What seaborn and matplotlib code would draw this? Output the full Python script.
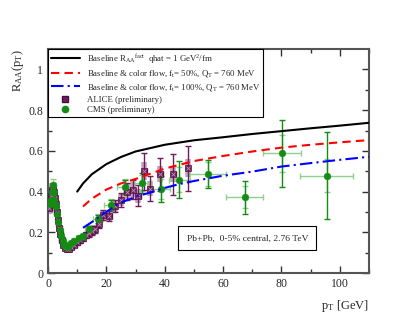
import matplotlib
matplotlib.use('Agg')
import matplotlib.pyplot as plt
import seaborn as sns
import numpy as np
import pandas as pd
from matplotlib.lines import Line2D

# theory curves
base_pt = [10, 12, 15, 20, 25, 30, 40, 50, 60, 70, 80, 90, 100, 110]
base_raa = [0.40, 0.44, 0.485, 0.535, 0.57, 0.597, 0.63, 0.652, 0.667, 0.683, 0.697, 0.711, 0.724, 0.738]

cf50_pt = [12, 15, 20, 25, 30, 40, 50, 60, 70, 80, 90, 100, 110]
cf50_raa = [0.327, 0.365, 0.41, 0.44, 0.462, 0.513, 0.55, 0.575, 0.597, 0.616, 0.63, 0.642, 0.653]

cf100_pt = [12, 15, 18, 20, 24, 30, 35, 40, 45, 50, 60, 70, 80, 90, 100, 110]
cf100_raa = [0.222, 0.25, 0.28, 0.30, 0.34, 0.375, 0.395, 0.418, 0.437, 0.452, 0.478, 0.498, 0.523, 0.540, 0.556, 0.571]

# ALICE (preliminary)
alice_pt = [0.5, 0.7, 0.9, 1.1, 1.3, 1.5, 1.7, 1.9, 2.1, 2.3, 2.6, 3.0, 3.4, 3.8, 4.2, 4.7,
            5.2, 5.8, 6.5, 7.2, 8.0, 9.0, 10.0, 11.0, 12.0, 13.0, 14.0, 15.0, 16.0, 17.5,
            19.0, 21.0, 23.0, 25.0, 27.0, 29.0, 31.0, 33.0, 35.0, 38.5, 43.0, 48.0]
alice_raa = [0.32, 0.34, 0.36, 0.38, 0.40, 0.41, 0.41, 0.40, 0.39, 0.37, 0.34, 0.30, 0.26, 0.22,
             0.19, 0.16, 0.14, 0.125, 0.12, 0.12, 0.13, 0.14, 0.15, 0.16, 0.17, 0.185, 0.195,
             0.205, 0.215, 0.24, 0.285, 0.28, 0.33, 0.36, 0.40, 0.41, 0.38, 0.50, 0.415, 0.485,
             0.485, 0.515]
alice_stat = [0.01, 0.01, 0.01, 0.01, 0.01, 0.01, 0.01, 0.01, 0.01, 0.01, 0.01, 0.01, 0.01, 0.01,
              0.01, 0.01, 0.01, 0.01, 0.01, 0.01, 0.01, 0.01, 0.012, 0.012, 0.014, 0.015, 0.016,
              0.017, 0.018, 0.02, 0.025, 0.025, 0.03, 0.035, 0.04, 0.045, 0.05, 0.09, 0.06, 0.08,
              0.1, 0.11]
alice_sys = [0.03, 0.03, 0.03, 0.03, 0.03, 0.03, 0.03, 0.03, 0.03, 0.03, 0.03, 0.025, 0.02, 0.02,
             0.018, 0.015, 0.013, 0.012, 0.012, 0.012, 0.012, 0.013, 0.014, 0.015, 0.016, 0.017,
             0.018, 0.019, 0.02, 0.022, 0.025, 0.025, 0.03, 0.03, 0.035, 0.035, 0.035, 0.045,
             0.035, 0.04, 0.04, 0.045]

# CMS (preliminary)
cms_pt = [0.7, 1.0, 1.3, 1.6, 1.9, 2.2, 2.6, 3.0, 3.5, 4.0, 4.5, 5.0, 5.5, 6.0, 7.0, 8.0, 9.0,
          10.5, 12.0, 14.0, 17.0, 21.5, 26.5, 32.3, 38.6, 44.9, 54.7, 67.4, 80.3, 95.5]
cms_raa = [0.34, 0.36, 0.40, 0.43, 0.40, 0.36, 0.33, 0.29, 0.25, 0.21, 0.18, 0.155, 0.14, 0.135,
           0.13, 0.145, 0.155, 0.17, 0.18, 0.215, 0.265, 0.333, 0.423, 0.443, 0.413, 0.459,
           0.487, 0.372, 0.588, 0.479]
cms_xerr = [0.1, 0.1, 0.1, 0.1, 0.1, 0.15, 0.2, 0.2, 0.25, 0.25, 0.25, 0.25, 0.25, 0.3, 0.5, 0.5,
            0.5, 0.75, 0.75, 1.25, 1.75, 2.25, 2.75, 3.0, 3.3, 3.6, 6.3, 6.3, 6.5, 9.0]
cms_stat = [0.01, 0.01, 0.01, 0.01, 0.01, 0.01, 0.01, 0.01, 0.01, 0.01, 0.01, 0.01, 0.01, 0.01,
            0.01, 0.01, 0.01, 0.01, 0.012, 0.015, 0.02, 0.025, 0.035, 0.05, 0.065, 0.09, 0.07,
            0.08, 0.165, 0.215]
cms_sys = [0.03, 0.03, 0.03, 0.03, 0.03, 0.03, 0.03, 0.025, 0.02, 0.02, 0.018, 0.015, 0.014,
           0.013, 0.013, 0.014, 0.015, 0.016, 0.017, 0.02, 0.025, 0.03, 0.04, 0.04, 0.05, 0.06,
           0.06, 0.055, 0.09, 0.08]

sns.set_theme(style='ticks')
plt.rcParams['font.family'] = ['Liberation Serif', 'DejaVu Serif']
plt.rcParams['mathtext.fontset'] = 'custom'
plt.rcParams['mathtext.rm'] = 'Liberation Serif'
plt.rcParams['mathtext.it'] = 'Liberation Serif'

fig = plt.figure(figsize=(4.15, 3.21), dpi=100)
ax = fig.add_axes([0.1157, 0.1495, 0.7733, 0.6975])

alice_col = '#6b1d5c'
cms_col = '#148c14'

# systematic errors (light) then statistical errors
ax.errorbar(alice_pt, alice_raa, yerr=alice_sys, fmt='none', ecolor='#c8a0bf',
            elinewidth=4, capsize=0, zorder=2)
ax.errorbar(alice_pt, alice_raa, yerr=alice_stat, xerr=0.8, fmt='none', ecolor=alice_col,
            elinewidth=1.0, capsize=2.4, capthick=1.0, zorder=3)
ax.errorbar(cms_pt, cms_raa, xerr=cms_xerr, yerr=cms_sys, fmt='none', ecolor='#8fcf8f',
            elinewidth=1.0, capsize=2.5, capthick=1.0, zorder=2)
ax.errorbar(cms_pt, cms_raa, yerr=cms_stat, fmt='none', ecolor=cms_col,
            elinewidth=1.0, capsize=2.2, capthick=1.0, zorder=3)

sns.scatterplot(x=alice_pt, y=alice_raa, marker='s', s=18, color=alice_col,
                edgecolor='#4a0f3e', linewidth=0.4, ax=ax, zorder=4)
sns.scatterplot(x=alice_pt, y=alice_raa, marker='x', s=8, color='#c090b0',
                linewidth=0.6, ax=ax, zorder=5)
sns.scatterplot(x=cms_pt, y=cms_raa, marker='o', s=24, color=cms_col,
                edgecolor=cms_col, linewidth=0.3, ax=ax, zorder=6)

sns.lineplot(x=base_pt, y=base_raa, color='black', linewidth=1.5, ax=ax, zorder=7)
sns.lineplot(x=cf50_pt, y=cf50_raa, color='red', linewidth=1.5, ax=ax, zorder=7,
             dashes=False).lines[-1].set_dashes([4, 2.5])
sns.lineplot(x=cf100_pt, y=cf100_raa, color='blue', linewidth=1.5, ax=ax, zorder=7,
             dashes=False).lines[-1].set_dashes([6, 2, 1, 2])

ax.set_xlim(0, 110)
ax.set_ylim(0, 1.1)
ax.set_xticks([0, 20, 40, 60, 80, 100])
ax.set_xticks(np.arange(10, 111, 20), minor=True)
ax.set_yticks([0, 0.2, 0.4, 0.6, 0.8, 1.0])
ax.set_yticklabels(['0', '0.2', '0.4', '0.6', '0.8', '1'])
ax.set_yticks(np.arange(0.1, 1.1, 0.2), minor=True)
ax.tick_params(which='both', direction='in', top=True, right=True, labelsize=8.5,
               color='#333333', width=1.0)
ax.tick_params(which='major', length=5)
ax.tick_params(which='minor', length=3)
for sp in ax.spines.values():
    sp.set_color('#555555')
    sp.set_linewidth(1.5)

ax.set_xlabel(r'p$_\mathrm{T}$ [GeV]', fontsize=9, loc='right', labelpad=6)
ax.set_ylabel(r'R$_\mathrm{AA}$(p$_\mathrm{T}$)', fontsize=9, loc='top', labelpad=2)

ax.text(68.3, 0.17, 'Pb+Pb,  0-5% central, 2.76 TeV', fontsize=6.8, ha='center', va='center',
        bbox=dict(boxstyle='square,pad=0.85', facecolor='white', edgecolor='black', linewidth=0.8),
        zorder=8)

handles = [
    Line2D([], [], color='black', lw=1.5),
    Line2D([], [], color='red', lw=1.5, dashes=[4, 2.5]),
    Line2D([], [], color='blue', lw=1.5, dashes=[6, 2, 1, 2]),
    Line2D([], [], ls='none', marker='s', ms=4, color=alice_col, mec='#4a0f3e'),
    Line2D([], [], ls='none', marker='o', ms=4.5, color=cms_col),
]
labels = [
    r'Baseline R$_\mathrm{AA}$$^\mathrm{fact}$  qhat = 1 GeV$^2$/fm',
    r'Baseline & color flow, f$_\mathrm{t}$= 50%, Q$_\mathrm{T}$ = 760 MeV',
    r'Baseline & color flow, f$_\mathrm{t}$= 100%, Q$_\mathrm{T}$ = 760 MeV',
    'ALICE (preliminary)',
    'CMS (preliminary)',
]
leg = ax.legend(handles, labels, loc='upper left', bbox_to_anchor=(0, 1), borderaxespad=0,
                fontsize=6.3, frameon=True, fancybox=False, framealpha=1, edgecolor='black',
                handlelength=3.3, labelspacing=0.3, borderpad=0.3, handletextpad=0.8)
leg.get_frame().set_linewidth(0.8)
leg.set_zorder(10)

fig.savefig('out.png', dpi=100)
